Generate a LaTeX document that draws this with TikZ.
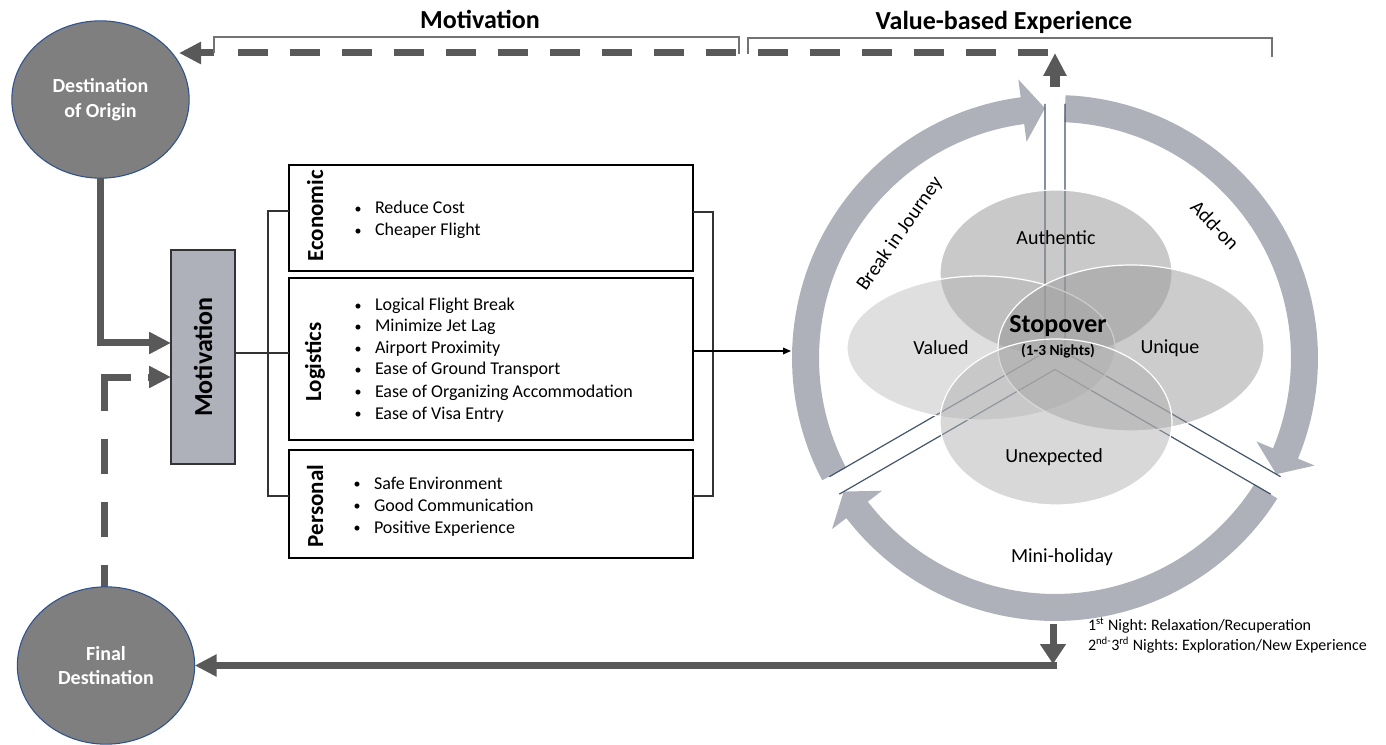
\documentclass[tikz,border=0pt]{standalone}
\usepackage{fontspec}
\setmainfont{Carlito}
\usetikzlibrary{arrows.meta,shapes.geometric}
\definecolor{ringc}{RGB}{174,177,185}
\definecolor{darkg}{RGB}{89,89,89}
\definecolor{nodeg}{RGB}{127,127,127}
\definecolor{nodeb}{RGB}{47,82,143}
\definecolor{spokec}{RGB}{68,84,106}
\newcommand{\fs}[2]{\fontsize{#1}{#2}\selectfont}
\newcommand{\bul}{\llap{\raisebox{0.6pt}{\scalebox{0.78}{\textbullet}}\hspace{10pt}}}
\frenchspacing
\begin{document}
\begin{tikzpicture}[x=0.75pt,y=0.75pt,
  every node/.style={inner sep=0pt, outer sep=0pt},
  place/.style={ellipse, draw=nodeb, line width=0.8pt, fill=nodeg, minimum width=133pt, minimum height=118pt, text=white, font=\bfseries\fs{15}{18.5}, align=center},
  heavy/.style={draw=darkg, line width=5.25pt},
  heavyarrow/.style={heavy, -{Triangle[length=16.5pt,width=15.75pt]}},
  catbox/.style={draw=black, line width=1.3pt, minimum width=303pt},
  cat/.style={rotate=90, anchor=base, font=\bfseries\fs{17.25}{20}},
  bitem/.style={anchor=base west, font=\fs{13.5}{16}},
  thinline/.style={draw=black!80, line width=0.9pt},
  brline/.style={draw=black!55, line width=1.1pt},
  header/.style={anchor=base, font=\bfseries\fs{19.5}{23}},
  ringlabel/.style={font=\fs{15}{18}},
  spokeline/.style={draw=spokec, line width=0.9pt},
  venn/.style={draw=white, line width=0.9pt},
]
\useasboundingbox (0,0) rectangle (1386,744);
\def\rcx{1055}\def\rcy{386}
% ring arrow segments
\fill[ringc] plot[domain=207.7:97.5,samples=60] ({\rcx+263*cos(\x)},{\rcy+263*sin(\x)})
  -- ({\rcx+281*cos(97.5)},{\rcy+281*sin(97.5)})
  -- ({\rcx+250*cos(92.3)},{\rcy+250*sin(92.3)})
  -- ({\rcx+218*cos(97.5)},{\rcy+218*sin(97.5)})
  -- plot[domain=97.5:207.7,samples=60] ({\rcx+236*cos(\x)},{\rcy+236*sin(\x)}) -- cycle;
\fill[ringc] plot[domain=87.7:-22.5,samples=60] ({\rcx+263*cos(\x)},{\rcy+263*sin(\x)})
  -- ({\rcx+281*cos(-22.5)},{\rcy+281*sin(-22.5)})
  -- ({\rcx+250*cos(-27.7)},{\rcy+250*sin(-27.7)})
  -- ({\rcx+218*cos(-22.5)},{\rcy+218*sin(-22.5)})
  -- plot[domain=-22.5:87.7,samples=60] ({\rcx+236*cos(\x)},{\rcy+236*sin(\x)}) -- cycle;
\fill[ringc] plot[domain=-32.3:-142.5,samples=60] ({\rcx+263*cos(\x)},{\rcy+263*sin(\x)})
  -- ({\rcx+281*cos(-142.5)},{\rcy+281*sin(-142.5)})
  -- ({\rcx+250*cos(-147.7)},{\rcy+250*sin(-147.7)})
  -- ({\rcx+218*cos(-142.5)},{\rcy+218*sin(-142.5)})
  -- plot[domain=-142.5:-32.3,samples=60] ({\rcx+236*cos(\x)},{\rcy+236*sin(\x)}) -- cycle;
% spokes
\coordinate (yl) at (1045,391.8);
\coordinate (yr) at (1065,391.8);
\coordinate (yb) at (1055,374.5);
\draw[spokeline] (1045,640) -- (yl) -- (829.4,267.3);
\draw[spokeline] (1065,640) -- (yr) -- (1280.6,267.3);
\draw[spokeline] (839.4,249.9) -- (yb) -- (1270.6,249.9);
% venn ellipses
\path[venn, fill=black!42, fill opacity=0.5] (1056,471) ellipse [x radius=87pt, y radius=62.25pt];
\path[venn, fill=black!30, fill opacity=0.42] (981,396) ellipse [x radius=100.5pt, y radius=54pt];
\path[venn, fill=black!40, fill opacity=0.5] (1131,396) ellipse [x radius=99.75pt, y radius=62.25pt];
\path[venn, fill=black!30, fill opacity=0.5] (1056,322) ellipse [x radius=87pt, y radius=62.25pt];
\node[ringlabel] (auth) at (1056,506) {Authentic};
\node[ringlabel] (valu) at (941,396) {Valued};
\node[ringlabel] (uniq) at (1170,396) {Unique};
\node[ringlabel] (unex) at (1054,287) {Unexpected};
\node[font=\bfseries\fs{19.5}{22}] (stop) at (1058,418) {Stopover};
\node[font=\bfseries\fs{11.5}{14}] (nights) at (1058,393) {(1-3 Nights)};
\node[ringlabel, rotate=55] (brk) at (900,510) {Break in Journey};
\node[ringlabel, rotate=-46] (addon) at (1215,519) {Add-on};
\node[ringlabel] (mini) at (1062,187) {Mini-holiday};
\node[anchor=base west, font=\fs{12}{14}] (n1) at (1088,114) {1\textsuperscript{st} Night: Relaxation/Recuperation};
\node[anchor=base west, font=\fs{12}{14}] (n2) at (1088,94) {2\textsuperscript{nd-}3\textsuperscript{rd} Nights: Exploration/New Experience};
% top dashed return
\coordinate (upS) at (1055,657);
\coordinate (upT) at (1055,691);
\draw[draw=darkg, line width=7.5pt, -{Triangle[length=17.25pt,width=16.5pt]}] (upS) -- (upT);
\coordinate (dR) at (1048,691);
\coordinate (dL) at (237,691);
\draw[heavy, dash pattern=on 22.5pt off 16.5pt] (dR) -- (dL);
\coordinate (aS) at (214,691);
\coordinate (aT) at (179,691);
\draw[heavyarrow] (aS) -- (aT);
% brackets and headers
\draw[brline] (aS) -- (214,707) -- (739,707) -- (739,690);
\draw[brline] (748,690) -- (748,706) -- (1272,706) -- (1272,687);
\node[header] (hm) at (480,715) {Motivation};
\node[header] (hv) at (1004,714) {Value-based Experience};
% dashed from final destination
\coordinate (fA) at (104,144);
\coordinate (fB) at (104,333);
\coordinate (fC) at (104,367);
\coordinate (fD) at (131,367);
\draw[heavy, dash pattern=on 26.25pt off 21pt] (fA) -- (fB);
\draw[heavy] (fB) -- (fC) -- (fD);
% places
\node[place] (orig) at (100.5,644.5) {Destination\\of Origin};
\node[place] (fin) at (106,78.5) {Final\\Destination};
% motivation box
\node[draw=black!80, line width=1.5pt, fill=ringc, minimum width=48pt, minimum height=160.5pt, font=\bfseries\fs{19.5}{22}] (mot) at (203,387) {\rotatebox{90}{Motivation}};
\draw[heavyarrow] (orig.south) |- (mot.west |- 0,401);
\draw[heavyarrow] (148,367) -- (mot.west |- 0,367);
% category boxes
\node[catbox, minimum height=79.5pt] (eco) at (491,526) {};
\node[catbox, minimum height=121.5pt] (logi) at (491,385) {};
\node[catbox, minimum height=81pt] (pers) at (491,240) {};
\node[cat] (ecol) at (323,528) {Economic};
\node[cat] (logl) at (321,382) {Logistics};
\node[cat] (perl) at (323,238) {Personal};
\node[bitem] (e1) at (375,530) {\bul Reduce Cost};
\node[bitem] (e2) at (375,508) {\bul Cheaper Flight};
\node[bitem] (l1) at (375,433) {\bul Logical Flight Break};
\node[bitem] (l2) at (375,412) {\bul Minimize Jet Lag};
\node[bitem] (l3) at (375,390) {\bul Airport Proximity};
\node[bitem] (l4) at (375,369) {\bul Ease of Ground Transport};
\node[bitem] (l5) at (375,347) {\bul Ease of Organizing Accommodation};
\node[bitem] (l6) at (375,325) {\bul Ease of Visa Entry};
\node[bitem] (p1) at (374,255) {\bul Safe Environment};
\node[bitem] (p2) at (374,233) {\bul Good Communication};
\node[bitem] (p3) at (374,211) {\bul Positive Experience};
% brackets between boxes
\coordinate (bjL) at (268,391);
\draw[thinline] (mot.east |- bjL) -- (logi.west |- bjL);
\draw[thinline] (eco.west |- 0,533) -| (268,248) -- (pers.west |- 0,248);
\draw[thinline] (eco.east |- 0,532) -| (713,248) -- (pers.east |- 0,248);
\coordinate (ringW) at (791,393);
\draw[thinline, draw=black, -{Triangle[length=6pt,width=5pt]}] (logi.east |- ringW) -- (ringW);
% bottom return
\coordinate (dnS) at (1053,120);
\coordinate (dnT) at (1053,80);
\draw[heavy, -{Triangle[length=15pt,width=18.75pt]}] (dnS) -- (dnT);
\coordinate (bc) at (1056.5,78.5);
\draw[heavyarrow] (bc) -- (fin.east);
\end{tikzpicture}
\end{document}
